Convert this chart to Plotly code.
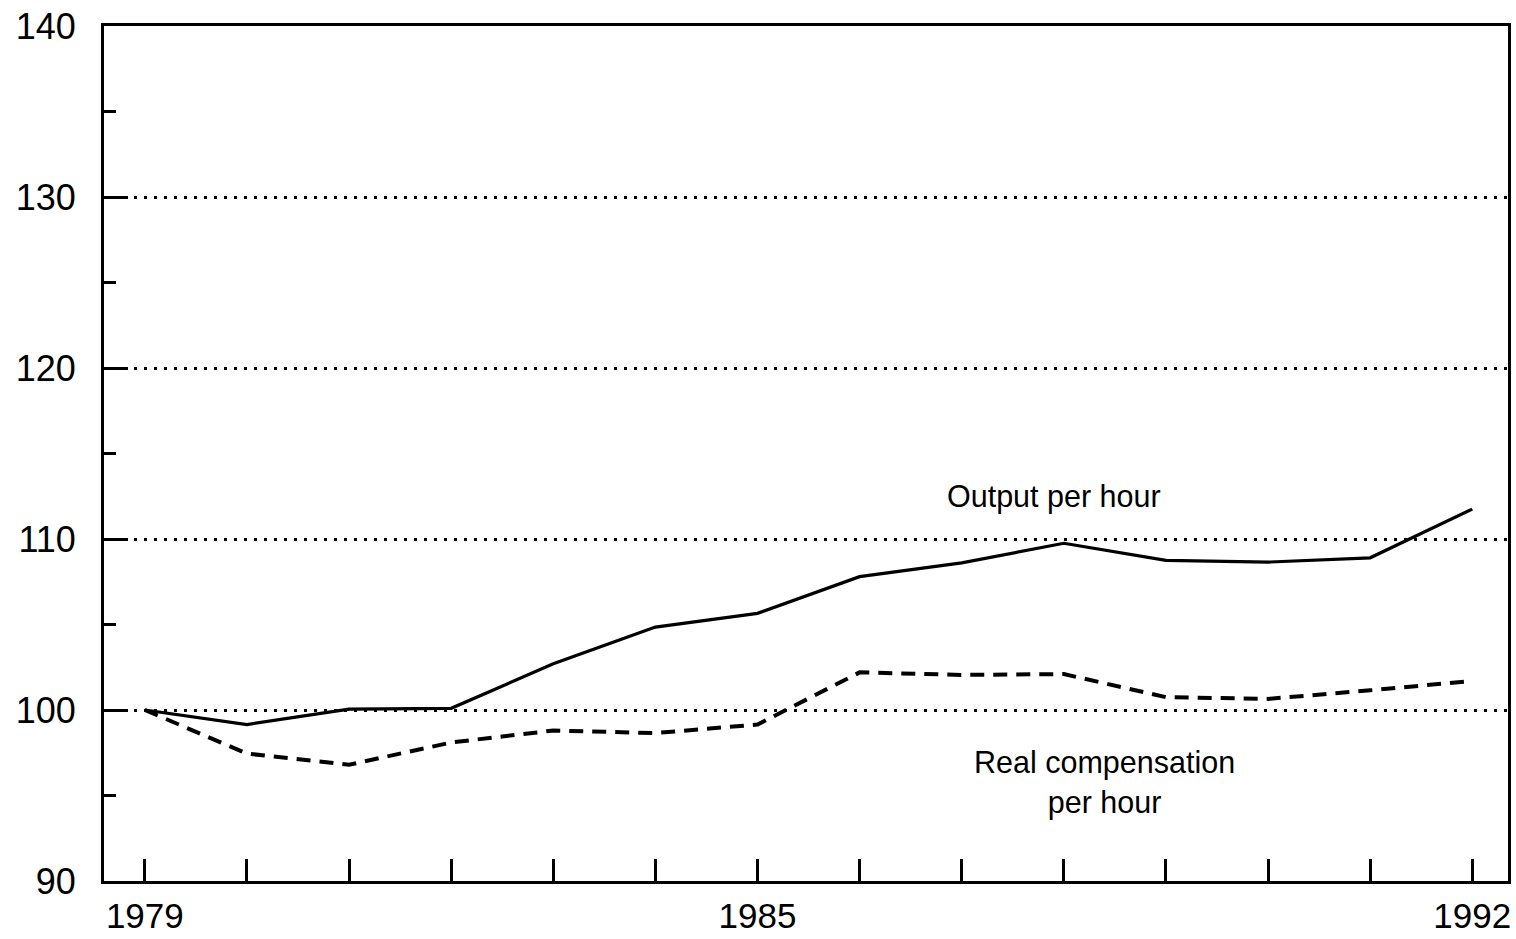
import plotly.graph_objects as go

years = list(range(1979, 1993))
output_per_hour = [100.0, 99.15, 100.05, 100.1, 102.7, 104.85, 105.65, 107.8, 108.6, 109.75, 108.75, 108.65, 108.9, 111.75]
real_comp_per_hour = [100.0, 97.45, 96.8, 98.1, 98.8, 98.65, 99.15, 102.2, 102.05, 102.1, 100.75, 100.65, 101.15, 101.7]
x_tick_labels = {1979: "1979", 1985: "1985", 1992: "1992"}
y_ticks = [90, 100, 110, 120, 130, 140]

FONT = "Liberation Sans, Arial, Helvetica, sans-serif"

fig = go.Figure()
fig.add_trace(go.Scatter(x=years, y=output_per_hour, mode="lines",
                         line=dict(color="black", width=3.2), showlegend=False,
                         name="Output per hour"))
fig.add_trace(go.Scatter(x=years, y=real_comp_per_hour, mode="lines",
                         line=dict(color="black", width=4, dash="14px,9px"), showlegend=False,
                         name="Real compensation per hour"))

fig.add_annotation(x=1987.9, y=112.5, xref="x", yref="y", text="Output per hour",
                   showarrow=False, font=dict(family=FONT, size=30.5, color="black"))
fig.add_annotation(x=1988.4, y=95.75, xref="x", yref="y", text="Real compensation<br>per hour",
                   showarrow=False, font=dict(family=FONT, size=30.5, color="black"))

fig.update_xaxes(range=[1978.6, 1992.35], tickmode="array", tickvals=years,
                 ticktext=[x_tick_labels.get(y, "") for y in years],
                 ticks="inside", ticklen=22, tickwidth=2.5, tickcolor="black",
                 showline=True, linecolor="black", linewidth=3, mirror=True,
                 showgrid=False, zeroline=False, ticklabeloverflow="allow",
                 ticklabelstandoff=2, automargin=False,
                 tickfont=dict(family=FONT, size=35, color="black"))
fig.update_yaxes(range=[90, 140], tickmode="array", tickvals=y_ticks,
                 ticks="inside", ticklen=24, tickwidth=2.5, tickcolor="black",
                 minor=dict(tickvals=[95, 105, 115, 125, 135], ticks="inside", ticklen=12,
                            tickwidth=2.5, tickcolor="black", showgrid=False),
                 showline=True, linecolor="black", linewidth=3, mirror=True,
                 showgrid=True, gridcolor="black", gridwidth=3, griddash="3px,7px",
                 zeroline=False, ticklabelstandoff=18, ticklabeloverflow="allow",
                 automargin=False,
                 tickfont=dict(family=FONT, size=36, color="black"))

fig.update_layout(width=1516, height=939, plot_bgcolor="white", paper_bgcolor="white",
                  margin=dict(l=104, r=8, t=26, b=58))

fig.write_html("out.html", config={"displayModeBar": False},
               post_script="document.body.style.margin='0';document.body.style.overflow='hidden';")
